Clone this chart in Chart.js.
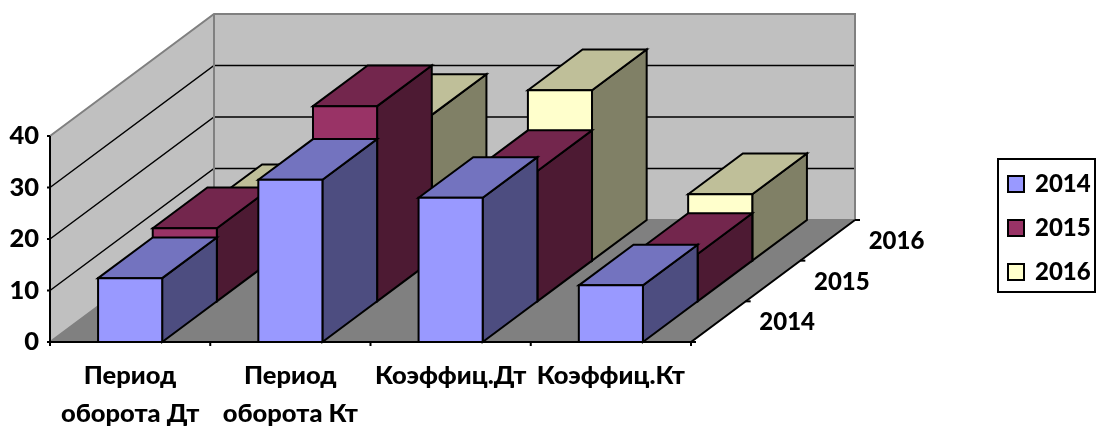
<!DOCTYPE html>
<html>
<head>
<meta charset="utf-8">
<title>Оборачиваемость</title>
<script src="https://cdn.jsdelivr.net/npm/chart.js@4/dist/chart.umd.min.js"></script>
<style>
	html, body { margin: 0; padding: 0; background: #fff; }
	#wrap { width: 1096px; height: 426px; }
</style>
</head>
<body>
<div id="wrap"><canvas id="myChart" width="1096" height="426"></canvas></div>
<script>
var categories = [["Период", "оборота Дт"], ["Период", "оборота Кт"], "Коэффиц.Дт", "Коэффиц.Кт"];
var seriesNames = ["2014", "2015", "2016"];
var values2014 = [12.4, 31.5, 28, 11];
var values2015 = [14.2, 37.9, 25.3, 9.2];
var values2016 = [10.8, 28.3, 33.1, 12.9];
var yTicks = [0, 10, 20, 30, 40];

var FONT_FAMILY = 'Lato, "Noto Sans", sans-serif';
var LABEL_FONT = '900 24px ' + FONT_FAMILY;

// how far the floor runs back, in pixels
var DEPTH_X = 164;
var DEPTH_Y = 122;

var faceColors = ["#9999FF", "#993366", "#FFFFCC"];
var topColors = ["#7373BF", "#73264D", "#BFBF99"];
var sideColors = ["#4D4D80", "#4D1A33", "#808066"];

function poly(ctx, pts, fill, stroke, width) {
	ctx.beginPath();
	ctx.moveTo(pts[0][0], pts[0][1]);
	for (var i = 1; i < pts.length; i++) {
		ctx.lineTo(pts[i][0], pts[i][1]);
	}
	if (fill) {
		ctx.closePath();
		ctx.fillStyle = fill;
		ctx.fill();
	}
	if (stroke) {
		ctx.strokeStyle = stroke;
		ctx.lineWidth = width;
		ctx.stroke();
	}
}

// walls, floor, gridlines and axis lines behind the bars
var wallsPlugin = {
	id: 'walls',
	beforeDatasetsDraw: function (chart) {
		var ctx = chart.ctx,
				x = chart.scales.x,
				y = chart.scales.y,
				l = x.left,
				r = x.right,
				b = y.getPixelForValue(0),
				t = y.getPixelForValue(40);

		ctx.save();
		ctx.lineJoin = 'miter';

		poly(ctx, [[l, b], [l, t], [l + DEPTH_X, t - DEPTH_Y], [l + DEPTH_X, b - DEPTH_Y]], "#C0C0C0");
		poly(ctx, [[l + DEPTH_X, t - DEPTH_Y], [r + DEPTH_X, t - DEPTH_Y], [r + DEPTH_X, b - DEPTH_Y], [l + DEPTH_X, b - DEPTH_Y]], "#C0C0C0");
		poly(ctx, [[l, b], [r, b], [r + DEPTH_X, b - DEPTH_Y], [l + DEPTH_X, b - DEPTH_Y]], "#808080");

		for (var i = 1; i < yTicks.length - 1; i++) {
			var gy = y.getPixelForValue(yTicks[i]);
			poly(ctx, [[l, gy], [l + DEPTH_X, gy - DEPTH_Y], [r + DEPTH_X, gy - DEPTH_Y]], null, "#000", 1.5);
		}

		// grey wall outline
		poly(ctx, [[l, b], [l + DEPTH_X, b - DEPTH_Y], [l + DEPTH_X, t - DEPTH_Y]], null, "#808080", 2);
		poly(ctx, [[l, t], [l + DEPTH_X, t - DEPTH_Y], [r + DEPTH_X, t - DEPTH_Y], [r + DEPTH_X, b - DEPTH_Y], [l + DEPTH_X, b - DEPTH_Y]], null, "#808080", 2);

		// front axes with tick marks
		poly(ctx, [[l, t], [l, b], [r, b], [r + DEPTH_X, b - DEPTH_Y]], null, "#000", 2);
		yTicks.forEach(function (v) {
			var ty = y.getPixelForValue(v);
			poly(ctx, [[l - 3, ty], [l, ty]], null, "#000", 2);
		});
		for (var c = 0; c <= categories.length; c++) {
			var tx = l + (r - l) * c / categories.length;
			poly(ctx, [[tx, b], [tx, b + 4]], null, "#000", 2);
		}
		for (var d = 0; d <= seriesNames.length; d++) {
			var px = r + DEPTH_X * d / seriesNames.length,
					py = b - DEPTH_Y * d / seriesNames.length;
			poly(ctx, [[px, py], [px + 5, py]], null, "#000", 2);
		}
		ctx.restore();
	},
	// every bar becomes a box, pushed back by its series position
	beforeDatasetDraw: function (chart, args) {
		var ctx = chart.ctx,
				s = args.index,
				stepX = DEPTH_X / seriesNames.length,
				stepY = DEPTH_Y / seriesNames.length,
				ox = stepX * s,
				oy = -stepY * s;

		ctx.save();
		ctx.lineJoin = 'miter';
		args.meta.data.forEach(function (bar) {
			var x0 = bar.x - bar.width / 2 + ox,
					x1 = bar.x + bar.width / 2 + ox,
					top = bar.y + oy,
					base = bar.base + oy;

			poly(ctx, [[x1, base], [x1 + stepX, base - stepY], [x1 + stepX, top - stepY], [x1, top]], sideColors[s], "#000", 2);
			poly(ctx, [[x0, top], [x0 + stepX, top - stepY], [x1 + stepX, top - stepY], [x1, top]], topColors[s], "#000", 2);
			poly(ctx, [[x0, base], [x0, top], [x1, top], [x1, base]], faceColors[s], "#000", 2);
		});
		ctx.restore();
		return false;
	},
	afterDatasetsDraw: function (chart) {
		var ctx = chart.ctx,
				x = chart.scales.x,
				y = chart.scales.y,
				b = y.getPixelForValue(0);

		ctx.save();
		ctx.font = LABEL_FONT;
		ctx.fillStyle = "#000";
		ctx.textBaseline = 'middle';

		// series names along the floor edge
		ctx.textAlign = 'left';
		seriesNames.forEach(function (name, i) {
			var frac = (i + 0.5) / seriesNames.length;
			ctx.fillText(name, x.right + DEPTH_X * frac + 41, b - DEPTH_Y * frac + 1);
		});

		// legend box
		poly(ctx, [[998, 159], [1095, 159], [1095, 292], [998, 292]], "#fff", "#000", 2);
		ctx.beginPath();
		ctx.moveTo(998, 159);
		ctx.lineTo(998, 292);
		ctx.stroke();
		seriesNames.forEach(function (name, i) {
			var ly = 184 + i * 44;
			poly(ctx, [[1008, ly - 8], [1024, ly - 8], [1024, ly + 8], [1008, ly + 8]], faceColors[i], "#000", 2);
			ctx.beginPath();
			ctx.moveTo(1008, ly - 8);
			ctx.lineTo(1008, ly + 8);
			ctx.stroke();
			ctx.fillStyle = "#000";
			ctx.fillText(name, 1035, ly);
		});
		ctx.restore();
	}
};

var chart = new Chart(document.getElementById('myChart').getContext('2d'), {
	type: 'bar',
	data: {
		labels: categories,
		datasets: [
			{ label: seriesNames[0], data: values2014, backgroundColor: faceColors[0] },
			{ label: seriesNames[1], data: values2015, backgroundColor: faceColors[1] },
			{ label: seriesNames[2], data: values2016, backgroundColor: faceColors[2] }
		]
	},
	options: {
		responsive: false,
		maintainAspectRatio: false,
		animation: false,
		events: [],
		layout: { padding: { left: 0, top: 136, right: 405, bottom: 0 } },
		datasets: { bar: { grouped: false, categoryPercentage: 1, barPercentage: 0.4 } },
		plugins: {
			legend: { display: false },
			tooltip: { enabled: false }
		},
		scales: {
			x: {
				grid: { display: false },
				border: { display: false },
				afterFit: function (scale) { scale.height = 84; },
				ticks: {
					color: "#000",
					maxRotation: 0,
					autoSkip: false,
					padding: 7,
					font: { family: FONT_FAMILY, size: 25.5, weight: '900', lineHeight: 1.49 }
				}
			},
			y: {
				min: 0,
				max: 40,
				grid: { display: false },
				border: { display: false },
				afterFit: function (scale) { scale.width = 50; },
				afterBuildTicks: function (scale) {
					scale.ticks = yTicks.map(function (v) { return { value: v }; });
				},
				ticks: {
					color: "#000",
					padding: 3,
					font: { family: FONT_FAMILY, size: 25.5, weight: '900' }
				}
			}
		}
	},
	plugins: [wallsPlugin]
});
</script>
</body>
</html>
